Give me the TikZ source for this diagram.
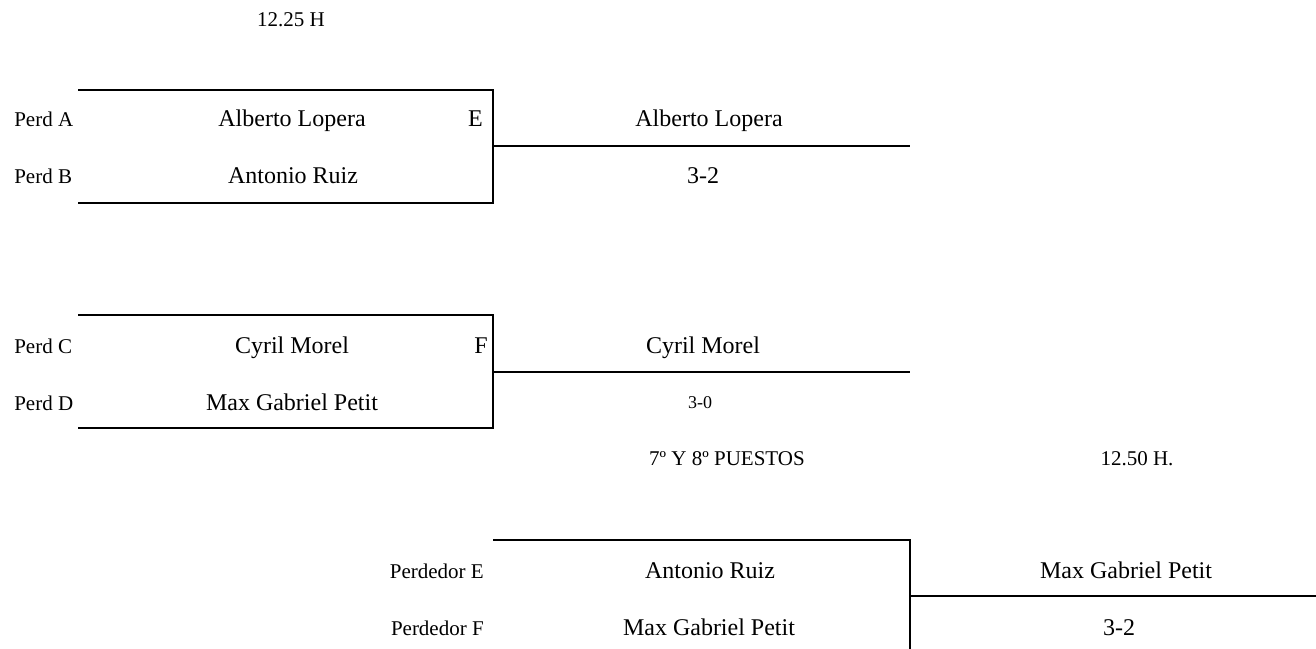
\documentclass[tikz,border=0pt]{standalone}
\usepackage{fontspec}
\setmainfont{Liberation Serif}
\usetikzlibrary{positioning}
\tikzset{
        bracket/.style={line width=1.5pt},
        player/.style={font=\fontsize{18}{21}\selectfont, anchor=base, inner sep=0pt},
        tag/.style={font=\fontsize{15.75}{18}\selectfont, anchor=base, inner sep=0pt},
        smallscore/.style={font=\fontsize{13.5}{16}\selectfont, anchor=base, inner sep=0pt},
    }
\begin{document}
\begin{tikzpicture}[x=0.75pt, y=-0.75pt]
                \useasboundingbox (0,0) rectangle (1316,649);
                \node[tag] (timeEF) at (291,27) {12.25 H};
                % match E
                \coordinate (E-tl) at (78,90);
                \coordinate (E-tr) at (493,90);
                \coordinate (E-bl) at (78,203);
                \coordinate (E-br) at (493,203);
                \coordinate (E-mid) at (493,146);
                \coordinate (E-end) at (910,146);
                \draw[bracket] (E-tl) -- (E-tr) -- (E-br) -- (E-bl);
                \draw[bracket] (E-mid) -- (E-end);
                \node[tag, anchor=base west] (perdA) at (14,127) {Perd A};
                \node[tag, anchor=base west] (perdB) at (14,184) {Perd B};
                \node[player] (playerA) at (292,127) {Alberto Lopera};
                \node[player] (playerB) at (293,184) {Antonio Ruiz};
                \node[player, anchor=base east] (markE) at (483,127) {E};
                \node[player] (winE) at (709,127) {Alberto Lopera};
                \node[player] (scoreE) at (703,184) {3-2};
                % match F
                \coordinate (F-tl) at (78,315);
                \coordinate (F-tr) at (493,315);
                \coordinate (F-bl) at (78,428);
                \coordinate (F-br) at (493,428);
                \coordinate (F-mid) at (493,372);
                \coordinate (F-end) at (910,372);
                \draw[bracket] (F-tl) -- (F-tr) -- (F-br) -- (F-bl);
                \draw[bracket] (F-mid) -- (F-end);
                \node[tag, anchor=base west] (perdC) at (14,353) {Perd C};
                \node[tag, anchor=base west] (perdD) at (14,410) {Perd D};
                \node[player] (playerC) at (292,353) {Cyril Morel};
                \node[player] (playerD) at (292,410) {Max Gabriel Petit};
                \node[player, anchor=base east] (markF) at (488,353) {F};
                \node[player] (winF) at (703,353) {Cyril Morel};
                \node[smallscore] (scoreF) at (700,408) {3-0};
                % 7th and 8th place
                \node[tag] (placeG) at (727,465) {7º Y 8º PUESTOS};
                \node[tag] (timeG) at (1137,465) {12.50 H.};
                \coordinate (G-tl) at (493,540);
                \coordinate (G-tr) at (910,540);
                \coordinate (G-bot) at (910,649);
                \coordinate (G-mid) at (910,596);
                \coordinate (G-end) at (1316,596);
                \draw[bracket] (G-tl) -- (G-tr) -- (G-bot);
                \draw[bracket] (G-mid) -- (G-end);
                \node[tag, anchor=base east] (loserE) at (484,578) {Perdedor E};
                \node[tag, anchor=base east] (loserF) at (484,635) {Perdedor F};
                \node[player] (playerE) at (710,578) {Antonio Ruiz};
                \node[player] (playerF) at (709,635) {Max Gabriel Petit};
                \node[player] (winG) at (1126,578) {Max Gabriel Petit};
                \node[player] (scoreG) at (1119,635) {3-2};
            \end{tikzpicture}
\end{document}
